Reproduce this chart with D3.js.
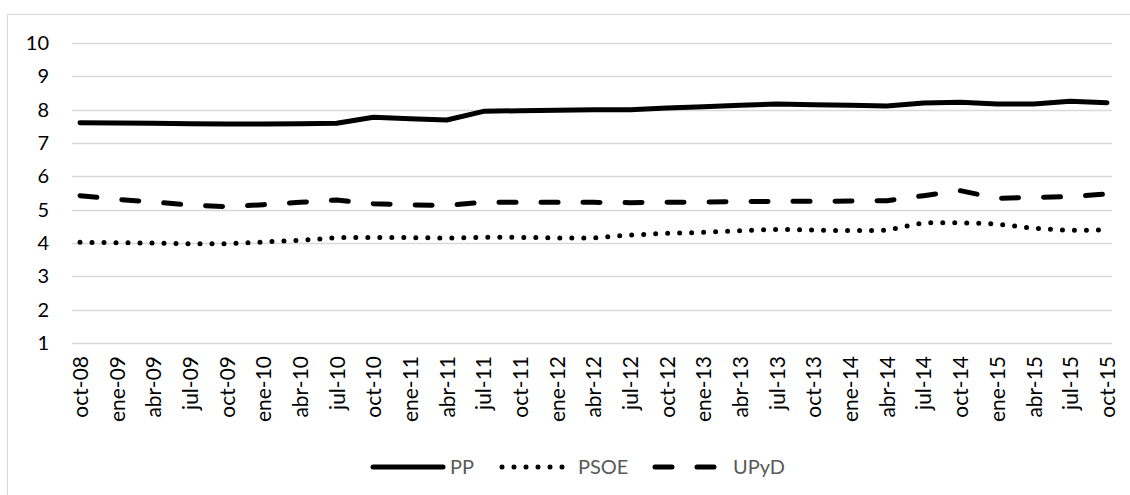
<!DOCTYPE html>
<html><head><meta charset="utf-8">
<script src="https://cdn.jsdelivr.net/npm/d3@7"></script>
<style>
html,body{margin:0;padding:0;background:#fff;}
svg{display:block;}
text{font-family:Lato,"Open Sans",sans-serif;}
</style></head>
<body><svg id="c" width="1130" height="495"></svg>
<script>
const categories = ["oct-08","ene-09","abr-09","jul-09","oct-09","ene-10","abr-10","jul-10","oct-10","ene-11","abr-11","jul-11","oct-11","ene-12","abr-12","jul-12","oct-12","ene-13","abr-13","jul-13","oct-13","ene-14","abr-14","jul-14","oct-14","ene-15","abr-15","jul-15","oct-15"];
const seriesNames = ["PP","PSOE","UPyD"];
const ppValues   = [7.61,7.60,7.59,7.58,7.57,7.57,7.58,7.59,7.77,7.73,7.69,7.95,7.97,7.98,8.00,8.00,8.05,8.09,8.13,8.17,8.15,8.13,8.11,8.20,8.22,8.17,8.17,8.25,8.21];
const psoeValues = [4.02,4.01,4.00,3.98,3.98,4.03,4.08,4.16,4.17,4.16,4.15,4.17,4.17,4.15,4.15,4.24,4.29,4.32,4.37,4.41,4.39,4.37,4.38,4.61,4.61,4.57,4.44,4.38,4.39];
const upydValues = [5.42,5.31,5.23,5.14,5.09,5.15,5.22,5.29,5.18,5.14,5.13,5.22,5.22,5.22,5.22,5.21,5.22,5.23,5.24,5.25,5.25,5.26,5.27,5.42,5.57,5.34,5.37,5.39,5.47];
const yTicks = [1,2,3,4,5,6,7,8,9,10];

const svg = d3.select("#c");
// outer chart border
svg.append("rect").attr("x",7.5).attr("y",14.5).attr("width",1140).attr("height",500)
  .attr("fill","#fff").attr("stroke","#d9d9d9").attr("stroke-width",1);

const plotL = 72, plotR = 1112;
const x = d3.scalePoint().domain(categories).range([80,1107]);
const y = d3.scaleLinear().domain([1,10]).range([343,43]);

// gridlines
svg.append("g").selectAll("line").data(yTicks).join("line")
  .attr("x1",plotL).attr("x2",plotR)
  .attr("y1",d=>Math.round(y(d))+0.5).attr("y2",d=>Math.round(y(d))+0.5)
  .attr("stroke","#d9d9d9").attr("stroke-width",1.3);

// y axis labels
const yAxis = d3.axisLeft(y).tickValues(yTicks).tickSize(0).tickPadding(0).tickFormat(d3.format("d"));
const gy = svg.append("g").attr("transform","translate(49,0)").call(yAxis);
gy.select(".domain").remove();
gy.selectAll("text").attr("font-size",20).attr("fill","#000").attr("font-family","Lato");

// x axis labels
const xAxis = d3.axisBottom(x).tickSize(0).tickPadding(0);
const gx = svg.append("g").attr("transform","translate(0,356)").call(xAxis);
gx.select(".domain").remove();
gx.selectAll("text").attr("font-size",21).attr("fill","#000").attr("font-family","Lato")
  .attr("transform","rotate(-90)").attr("text-anchor","end")
  .attr("x",0).attr("y",0).attr("dy","0.35em").attr("dx",0);

// series
const styles = {
  PP:   {dash:null},
  PSOE: {dash:"0,12"},
  UPyD: {dash:"17,25"}
};
const data = [["PP",ppValues],["PSOE",psoeValues],["UPyD",upydValues]];
const line = d3.line().x((d,i)=>x(categories[i])).y(d=>y(d));
data.forEach(([name,vals])=>{
  svg.append("path").datum(vals).attr("d",line)
    .attr("fill","none").attr("stroke","#000").attr("stroke-width",5)
    .attr("stroke-linecap","round").attr("stroke-linejoin","round")
    .attr("stroke-dasharray",styles[name].dash);
});

// legend
const legendItems = [
  {name:"PP", x1:373, x2:443, tx:450},
  {name:"PSOE", x1:502, x2:566, tx:578},
  {name:"UPyD", x1:655, x2:720, tx:733}
];
const ly = 467;
const lg = svg.append("g");
legendItems.forEach(it=>{
  lg.append("line").attr("x1",it.x1).attr("x2",it.x2).attr("y1",ly).attr("y2",ly)
    .attr("stroke","#000").attr("stroke-width",5).attr("stroke-linecap","round")
    .attr("stroke-dasharray",styles[it.name].dash);
  lg.append("text").attr("x",it.tx).attr("y",ly).attr("dy","0.35em")
    .attr("font-size",20).attr("fill","#595959").text(it.name);
});
</script></body></html>
